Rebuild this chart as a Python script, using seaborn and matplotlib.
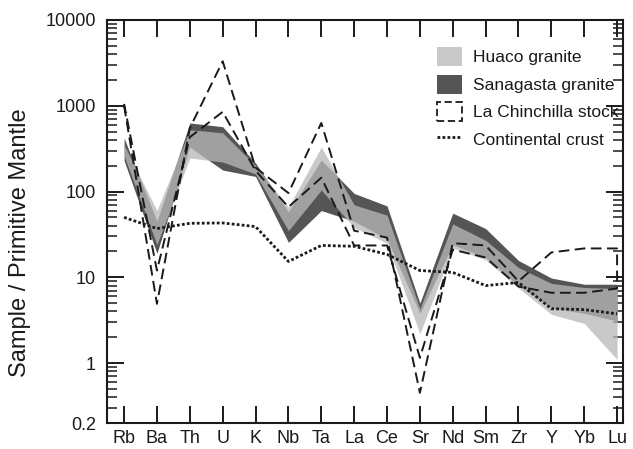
import numpy as np
import pandas as pd
import matplotlib
matplotlib.use("Agg")
import matplotlib.pyplot as plt
import seaborn as sns
from matplotlib.patches import Patch
from matplotlib.lines import Line2D
from matplotlib.ticker import FixedLocator, LogLocator, NullFormatter

# Primitive-mantle normalised trace-element patterns
elements = ["Rb", "Ba", "Th", "U", "K", "Nb", "Ta", "La", "Ce", "Sr",
            "Nd", "Sm", "Zr", "Y", "Yb", "Lu"]

huaco_low = [260, 24, 246, 221, 160, 35, 104, 38, 25, 2.2, 22, 16, 7.5, 3.7, 2.9, 1.1]
huaco_high = [350, 60, 525, 484, 200, 66, 330, 70, 53, 4.3, 42, 27, 13, 8.5, 7.6, 7.4]

sanagasta_low = [230, 19, 330, 178, 150, 25.5, 60, 45, 28, 3.8, 24, 17, 8, 4.4, 3.8, 3.1]
sanagasta_high = [420, 45, 630, 570, 215, 58, 233, 95, 68, 5.0, 56, 37, 15.7, 9.8, 8.3, 8.3]

chinchilla_upper = [1000, 4.9, 550, 3300, 190, 96, 630, 35, 29, 0.45, 25, 23.5, 9.0, 19.5, 21.7, 21.7]
chinchilla_lower = [1050, 12, 430, 850, 175, 66, 145, 23.5, 23.5, 1.15, 21, 17, 7.8, 6.6, 6.6, 7.4]

continental_crust = [50, 37, 42.6, 43, 39, 15.3, 23.5, 23, 18.5, 12, 11.4, 8, 8.7, 4.3, 4.2, 3.75]

y_ticks = [0.2, 1, 10, 100, 1000, 10000]
y_tick_labels = ["0.2", "1", "10", "100", "1000", "10000"]

sns.set_theme(style="ticks")
plt.rcParams["font.family"] = ["Liberation Sans", "DejaVu Sans"]

LIGHT = "#c9c9c9"
DARK = "#555555"
INK = "#1a1a1a"

fig = plt.figure(figsize=(6.33, 4.49), dpi=100)
ax = fig.add_axes([107 / 633, 1 - 423 / 449, (623 - 107) / 633, (423 - 20) / 449])

pos = np.arange(len(elements))

# Sanagasta band underneath, Huaco band semi-opaque on top so the overlap reads mid-grey
ax.fill_between(pos, sanagasta_low, sanagasta_high, color=DARK, lw=0, zorder=1)
ax.fill_between(pos, huaco_low, huaco_high, color=(184 / 255,) * 3, alpha=0.76, lw=0, zorder=2)

# La Chinchilla envelope: upper trace out to Lu, lower trace back to Rb
env = pd.DataFrame({
    "x": np.concatenate([pos, pos[::-1]]),
    "y": np.concatenate([chinchilla_upper, chinchilla_lower[::-1]]),
})
sns.lineplot(data=env, x="x", y="y", sort=False, estimator=None, ax=ax,
             color=INK, lw=1.4, linestyle=(0, (5.5, 2.8)), zorder=3)

crust = pd.DataFrame({"x": pos, "y": continental_crust})
sns.lineplot(data=crust, x="x", y="y", sort=False, estimator=None, ax=ax,
             color=INK, lw=2.0, linestyle=(0, (1, 0.8)), zorder=4)

ax.set_yscale("log")
ax.set_ylim(0.2, 10000)
ax.set_xlim(-0.52, 15.18)

ax.xaxis.set_major_locator(FixedLocator(pos))
ax.set_xticklabels(elements)
ax.yaxis.set_major_locator(FixedLocator(y_ticks))
ax.set_yticklabels(y_tick_labels)
ax.yaxis.set_minor_locator(LogLocator(base=10, subs=np.arange(2, 10)))
ax.yaxis.set_minor_formatter(NullFormatter())

ax.tick_params(axis="both", which="major", direction="in", top=True, right=True,
               length=12, width=1.4, color=INK, labelsize=13, labelcolor=INK)
ax.tick_params(axis="y", which="major", pad=8)
ax.tick_params(axis="x", which="major", pad=5)
ax.tick_params(axis="y", which="minor", direction="in", right=True, length=7, width=1.1, color=INK)
for s in ax.spines.values():
    s.set_linewidth(1.5)
    s.set_color(INK)

ax.set_xlabel("")
ax.set_ylabel("Sample / Primitive Mantle", fontsize=17, color=INK)
ax.yaxis.set_label_coords(-0.148, 0.447)

handles = [
    Patch(facecolor=LIGHT, edgecolor="none"),
    Patch(facecolor=DARK, edgecolor="none"),
    Patch(facecolor="white", edgecolor=INK, linestyle=(0, (4, 2)), lw=1.3),
    Line2D([0], [0], color=INK, lw=2.0, linestyle=(0, (1, 0.8))),
]
labels = ["Huaco granite", "Sanagasta granite", "La Chinchilla stock", "Continental crust"]
ax.legend(handles, labels, loc="upper left", bbox_to_anchor=(437 / 633, 1 - 47 / 449),
          bbox_transform=fig.transFigure, frameon=False, fontsize=12.5,
          borderpad=0, borderaxespad=0, handlelength=1.45, handleheight=1.3,
          labelspacing=0.5, handletextpad=0.6, labelcolor=INK)

fig.savefig("out.png", dpi=100)
